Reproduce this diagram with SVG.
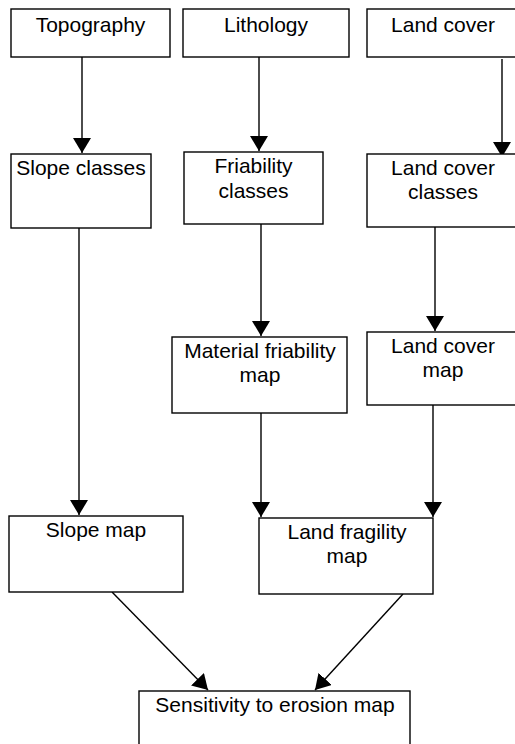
<svg xmlns="http://www.w3.org/2000/svg" width="515" height="744" viewBox="0 0 515 744">
<style>
.box{fill:#fff;stroke:#000;stroke-width:1.4}
.t{font-family:"Liberation Sans",Arial,sans-serif;font-size:21px;fill:#000;text-anchor:middle}
.c{stroke:#000;stroke-width:1.4;fill:none;marker-end:url(#ah)}
</style>
<defs>
<marker id="ah" markerUnits="userSpaceOnUse" markerWidth="16" markerHeight="18" refX="15" refY="9" orient="auto" viewBox="0 0 16 18">
<path d="M0,0 L15,9 L0,18 z" fill="#000"/>
</marker>
</defs>
<rect width="515" height="744" fill="#fff"/>
<g id="connectors">
<line class="c" x1="82" y1="57" x2="82" y2="153"/>
<line class="c" x1="259" y1="57" x2="259" y2="151"/>
<line class="c" x1="502" y1="59" x2="502" y2="157"/>
<line class="c" x1="79" y1="228" x2="79" y2="515"/>
<line class="c" x1="261" y1="224" x2="261" y2="336"/>
<line class="c" x1="435" y1="227" x2="435" y2="331"/>
<line class="c" x1="261" y1="413" x2="261" y2="517"/>
<line class="c" x1="433" y1="405" x2="433" y2="517"/>
<line class="c" x1="112" y1="592" x2="208" y2="690"/>
<line class="c" x1="403" y1="594" x2="315" y2="690"/>
</g>
<g id="topography"><rect class="box" x="11" y="9" width="159" height="48"/><text class="t" x="90.5" y="32">Topography</text></g>
<g id="lithology"><rect class="box" x="183" y="9" width="166" height="48"/><text class="t" x="266" y="32">Lithology</text></g>
<g id="landcover"><rect class="box" x="367" y="9" width="152" height="48"/><text class="t" x="443" y="32">Land cover</text></g>
<g id="slopeclasses"><rect class="box" x="11" y="154" width="140" height="74"/><text class="t" x="81" y="175">Slope classes</text></g>
<g id="friabilityclasses"><rect class="box" x="184" y="152" width="139" height="72"/><text class="t" x="253.5" y="173">Friability</text><text class="t" x="253.5" y="198">classes</text></g>
<g id="landcoverclasses"><rect class="box" x="367" y="154" width="152" height="73"/><text class="t" x="443" y="175">Land cover</text><text class="t" x="443" y="199">classes</text></g>
<g id="materialfriabilitymap"><rect class="box" x="172" y="337" width="175" height="76"/><text class="t" x="260" y="358">Material friability</text><text class="t" x="260" y="382">map</text></g>
<g id="landcovermap"><rect class="box" x="367" y="332" width="152" height="73"/><text class="t" x="443" y="353">Land cover</text><text class="t" x="443" y="377">map</text></g>
<g id="slopemap"><rect class="box" x="9" y="516" width="174" height="76"/><text class="t" x="96" y="537">Slope map</text></g>
<g id="landfragilitymap"><rect class="box" x="259" y="518" width="174" height="76"/><text class="t" x="347" y="539">Land fragility</text><text class="t" x="347" y="563">map</text></g>
<g id="sensitivitymap"><rect class="box" x="139" y="691" width="271" height="70"/><text class="t" x="275" y="712">Sensitivity to erosion map</text></g>
</svg>
